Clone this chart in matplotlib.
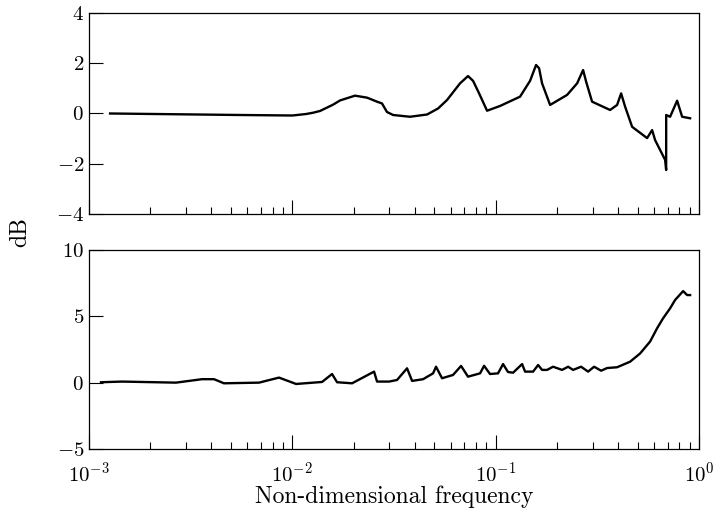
import matplotlib
matplotlib.use("Agg")
import matplotlib.pyplot as plt
import numpy as np

plt.rcParams['font.family'] = 'serif'
plt.rcParams['font.serif'] = ['cmr10', 'DejaVu Serif']
plt.rcParams['mathtext.fontset'] = 'cm'
plt.rcParams['axes.formatter.use_mathtext'] = True

# top panel: dB vs non-dimensional frequency
freqTop = [1.27e-3, 5.53e-3, 0.01, 0.0117, 0.01264, 0.01368, 0.01585, 0.01717, 0.02034,
	0.02331, 0.0261, 0.0276, 0.0292, 0.0313, 0.0379, 0.046, 0.0521, 0.0577, 0.0668,
	0.0731, 0.0774, 0.0829, 0.0907, 0.1051, 0.1318, 0.1476, 0.158, 0.1635, 0.1691,
	0.1852, 0.2245, 0.2515, 0.2691, 0.2784, 0.2979, 0.3653, 0.3955, 0.4139, 0.4331,
	0.4688, 0.5555, 0.5879, 0.6082, 0.6815, 0.6892, 0.6895, 0.7208, 0.7804, 0.826, 0.904]
dbTop = [0.0, -0.06, -0.08, -0.02, 0.03, 0.1, 0.35, 0.52, 0.71,
	0.63, 0.47, 0.4, 0.06, -0.06, -0.13, -0.04, 0.2, 0.54, 1.2,
	1.49, 1.3, 0.8, 0.11, 0.3, 0.67, 1.3, 1.93, 1.8, 1.2,
	0.34, 0.74, 1.2, 1.73, 1.27, 0.47, 0.14, 0.34, 0.8, 0.27,
	-0.53, -0.98, -0.66, -1.06, -1.85, -2.25, -0.06, -0.13, 0.51, -0.13, -0.19]

# bottom panel
freqBot = [1.146e-3, 1.453e-3, 2.677e-3, 3.596e-3, 4.12e-3, 4.61e-3, 6.86e-3, 8.6e-3,
	0.01043, 0.014, 0.01568, 0.0166, 0.01967, 0.02523, 0.0261, 0.02989, 0.03273,
	0.03666, 0.03881, 0.04396, 0.04921, 0.0509, 0.05448, 0.06171, 0.06758, 0.0731,
	0.08381, 0.0877, 0.0938, 0.1027, 0.1087, 0.115, 0.1218, 0.1349, 0.1395, 0.1528,
	0.1617, 0.1691, 0.179, 0.1915, 0.2121, 0.2271, 0.2403, 0.263, 0.2847, 0.3048,
	0.33, 0.3532, 0.3955, 0.4583, 0.5133, 0.5748, 0.6222, 0.6658, 0.7208, 0.7627,
	0.8351, 0.874, 0.904]
dbBot = [0.03, 0.08, 0.0, 0.26, 0.26, -0.05, 0.0, 0.38,
	-0.1, 0.05, 0.65, 0.03, -0.05, 0.83, 0.08, 0.08, 0.2,
	1.08, 0.13, 0.26, 0.7, 1.2, 0.33, 0.58, 1.26, 0.45,
	0.7, 1.27, 0.65, 0.7, 1.4, 0.8, 0.75, 1.4, 0.83, 0.83,
	1.33, 0.96, 0.96, 1.2, 0.96, 1.2, 0.96, 1.2, 0.83, 1.2,
	0.9, 1.1, 1.16, 1.58, 2.2, 3.1, 4.1, 4.85, 5.6, 6.23,
	6.9, 6.6, 6.6]

fig = plt.figure(figsize=(7.13, 5.14), dpi=100)
axTop = fig.add_axes([0.1248, 0.5837, 0.8556, 0.391])
axBot = fig.add_axes([0.1248, 0.1265, 0.8556, 0.3872])

def styleAxis(ax, showLabels):
	ax.set_xscale('log')
	ax.set_xlim(1e-3, 1)
	ax.tick_params(which='major', direction='in', length=10, width=0.8, labelsize=15,
		top=False, right=False)
	ax.tick_params(axis='x', which='major', pad=9)
	ax.tick_params(which='minor', direction='in', length=5, width=0.8, top=False, right=False)
	ax.tick_params(axis='y', which='minor', left=False)
	if not showLabels:
		ax.tick_params(axis='x', labelbottom=False)
	for s in ax.spines.values():
		s.set_linewidth(0.9)

axTop.plot(freqTop, dbTop, color='black', linewidth=1.7)
axTop.set_ylim(-4, 4)
axTop.set_yticks([-4, -2, 0, 2, 4])
styleAxis(axTop, False)

axBot.plot(freqBot, dbBot, color='black', linewidth=1.7)
axBot.set_ylim(-5, 10)
axBot.set_yticks([-5, 0, 5, 10])
styleAxis(axBot, True)
axBot.set_xlabel('Non-dimensional frequency', fontsize=17, labelpad=0)

fig.text(0.029, 0.549, 'dB', rotation=90, fontsize=17, ha='center', va='center')

plt.savefig('out.png', dpi=100)
